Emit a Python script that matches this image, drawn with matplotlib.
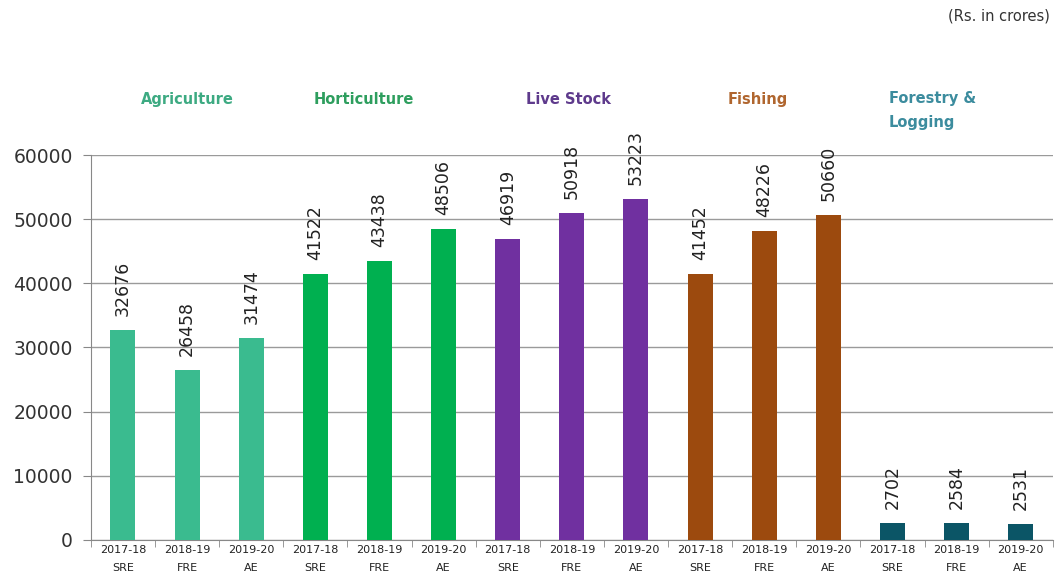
import matplotlib
matplotlib.use("Agg")
import matplotlib.pyplot as plt
import numpy as np

groups = ["Agriculture", "Horticulture", "Live Stock", "Fishing", "Forestry &\nLogging"]
periods = ["2017-18\nSRE", "2018-19\nFRE", "2019-20\nAE"]
values = [
    [32676, 26458, 31474],
    [41522, 43438, 48506],
    [46919, 50918, 53223],
    [41452, 48226, 50660],
    [2702, 2584, 2531],
]
bar_colors = ["#3ABB8F", "#00B050", "#7030A0", "#9C4A0E", "#0B5566"]
label_colors = ["#3DAA82", "#2E9E5E", "#5E3A8C", "#B0662F", "#3C8C9E"]
group_label_offsets = [0.0, -0.25, -0.05, -0.1, -1.06]

fig = plt.figure(figsize=(10.57, 5.83), dpi=100)
ax = fig.add_axes([0.086, 0.074, 0.91, 0.66])

n_per = len(periods)
all_vals = [v for g in values for v in g]
all_cols = [bar_colors[i] for i, g in enumerate(values) for _ in g]
xlabels = [p for _ in values for p in periods]
x = np.arange(len(all_vals))

ax.bar(x, all_vals, width=0.39, color=all_cols, zorder=3)
for xi, v in zip(x, all_vals):
    ax.annotate(str(v), (xi, v), xytext=(0, 10), textcoords="offset points",
                rotation=90, ha="center", va="bottom", fontsize=12.5, color="#222222")

for i, g in enumerate(groups):
    cx = i * n_per + 1 + group_label_offsets[i]
    if "\n" in g:
        ax.text(cx, 1.115, g, transform=ax.get_xaxis_transform(),
                ha="left", va="center", fontsize=10.5, fontweight="bold",
                color=label_colors[i], linespacing=1.75)
    else:
        ax.text(cx, 1.145, g, transform=ax.get_xaxis_transform(),
                ha="center", va="center", fontsize=10.5, fontweight="bold",
                color=label_colors[i])

ax.set_xlim(-0.5, len(all_vals) - 0.5)
ax.set_ylim(0, 60000)
ax.set_yticks(np.arange(0, 60001, 10000))
ax.tick_params(axis="y", labelsize=13.5, length=6, pad=7, color="#888888", labelcolor="#333333")
ax.set_xticks(x)
ax.set_xticklabels(xlabels, fontsize=8, color="#222222", linespacing=1.9)
ax.tick_params(axis="x", length=0, pad=4)
ax.set_xticks(np.arange(-0.5, len(all_vals), 1.0), minor=True)
ax.tick_params(axis="x", which="minor", length=5, color="#888888")

ax.yaxis.grid(True, color="#9A9A9A", linewidth=1.0, zorder=0)
ax.set_axisbelow(True)
for s in ["top", "right"]:
    ax.spines[s].set_visible(False)
for s in ["left", "bottom"]:
    ax.spines[s].set_color("#888888")

fig.text(0.993, 0.972, "(Rs. in crores)", ha="right", va="center", fontsize=10.5, color="#333333")

fig.savefig("out.png", dpi=100)
